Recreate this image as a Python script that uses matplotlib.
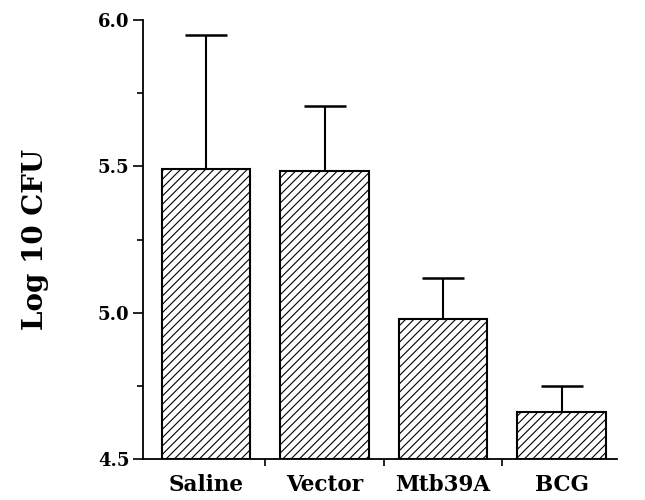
import matplotlib.pyplot as plt
import numpy as np

groups = ['Saline', 'Vector', 'Mtb39A', 'BCG']
log_cfu = [5.49, 5.485, 4.98, 4.66]
err_up = [0.46, 0.22, 0.14, 0.09]

plt.rcParams['font.family'] = ['DejaVu Serif']
plt.rcParams['font.weight'] = 'bold'
plt.rcParams['hatch.linewidth'] = 0.8

fig = plt.figure(figsize=(6.45, 5), dpi=100)
ax = fig.add_axes([0.222, 0.082, 0.735, 0.878])

x = np.arange(len(groups))
ax.bar(x, np.array(log_cfu) - 4.5, bottom=4.5, width=0.75, color='white',
       edgecolor='black', linewidth=1.5, hatch='////', zorder=2)
ax.errorbar(x, log_cfu, yerr=[np.zeros(len(err_up)), err_up], fmt='none',
            ecolor='black', elinewidth=1.5, capsize=15, capthick=1.8, zorder=1)

ax.set_xlim(-0.53, 3.47)
ax.set_ylim(4.5, 6.0)
ax.set_yticks([4.5, 5.0, 5.5, 6.0])
ax.set_yticks([4.75, 5.25, 5.75], minor=True)
ax.set_yticklabels(['4.5', '5.0', '5.5', '6.0'], fontsize=13, fontweight='bold')
ax.set_xticks(x)
ax.set_xticklabels(groups, fontsize=15.5, fontweight='bold')
ax.set_xticks([0.5, 1.5, 2.5], minor=True)
ax.tick_params(axis='x', which='major', length=0, pad=11)
ax.tick_params(axis='x', which='minor', length=5, width=1.2)
ax.tick_params(axis='y', which='major', length=7, width=1.2, pad=3)
ax.tick_params(axis='y', which='minor', length=4, width=1.2)
ax.set_ylabel('Log 10 CFU', fontsize=20, fontweight='bold', labelpad=35)

for s in ['top', 'right']:
    ax.spines[s].set_visible(False)
for s in ['left', 'bottom']:
    ax.spines[s].set_linewidth(1.3)

fig.savefig('out.png', dpi=100)
